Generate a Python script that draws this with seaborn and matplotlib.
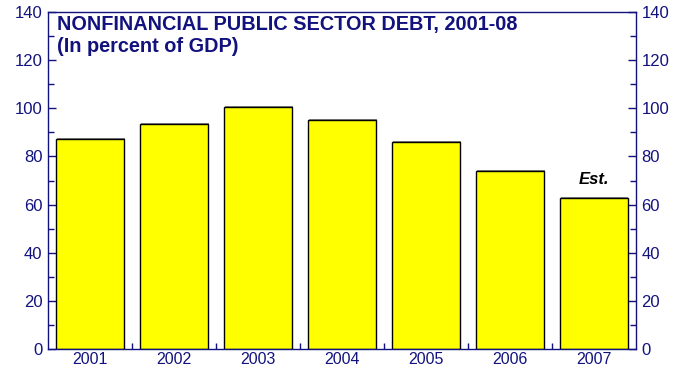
import matplotlib
matplotlib.use("Agg")
import matplotlib.pyplot as plt
import matplotlib.patheffects as pe
import seaborn as sns
import pandas as pd
from matplotlib.ticker import MultipleLocator

years = ["2001", "2002", "2003", "2004", "2005", "2006", "2007"]
debt = [87.3, 93.5, 100.5, 95.2, 86.0, 73.8, 62.8]
title_text = "NONFINANCIAL PUBLIC SECTOR DEBT, 2001-08\n(In percent of GDP)"

navy = "#12127e"

sns.set_style("white")
plt.rcParams['font.family'] = ['Liberation Sans', 'DejaVu Sans']

df = pd.DataFrame({"year": years, "debt": debt})

fig = plt.figure(figsize=(6.86, 3.68), dpi=100)
ax = fig.add_axes([0.07, 0.052, 0.857, 0.915])

sns.barplot(data=df, x="year", y="debt", color="#ffff00", saturation=1,
            edgecolor="black", linewidth=1.0, width=0.8, ax=ax)

# faint grey shadow on the bars
for p in ax.patches:
    p.set_path_effects([pe.SimplePatchShadow(offset=(0.7, 0.7), shadow_rgbFace="#888888", alpha=1),
                        pe.Normal()])

ax.set_ylim(0, 140)
ax.set_xlim(-0.5, len(years) - 0.5)
ax.set_xlabel("")
ax.set_ylabel("")

ax.yaxis.set_major_locator(MultipleLocator(20))
ax.yaxis.set_minor_locator(MultipleLocator(10))
ax.tick_params(axis="y", which="both", direction="in", left=True, right=True,
               labelleft=True, labelright=True, colors=navy, labelcolor=navy,
               labelsize=12, pad=4)
ax.tick_params(axis="y", which="major", length=6, width=1)
ax.tick_params(axis="y", which="minor", length=4, width=1)

# small inward ticks between categories on the bottom
ax.set_xticks([i + 0.5 for i in range(len(years) - 1)], minor=True)
ax.tick_params(axis="x", which="major", length=0, labelsize=11.5, labelcolor=navy, pad=2.5)
ax.tick_params(axis="x", which="minor", direction="in", length=4, width=1,
               color=navy, bottom=True)

for s in ax.spines.values():
    s.set_color(navy)
    s.set_linewidth(1)

ax.text(0.016, 0.993, title_text, transform=ax.transAxes, ha="left", va="top",
        fontsize=14.3, fontweight="bold", color=navy, linespacing=1.2)

ax.text(len(years) - 1, debt[-1] + 4.5, "Est.", ha="center", va="bottom",
        fontsize=12, fontweight="bold", fontstyle="italic", color="black")

fig.savefig("out.png", dpi=100)
